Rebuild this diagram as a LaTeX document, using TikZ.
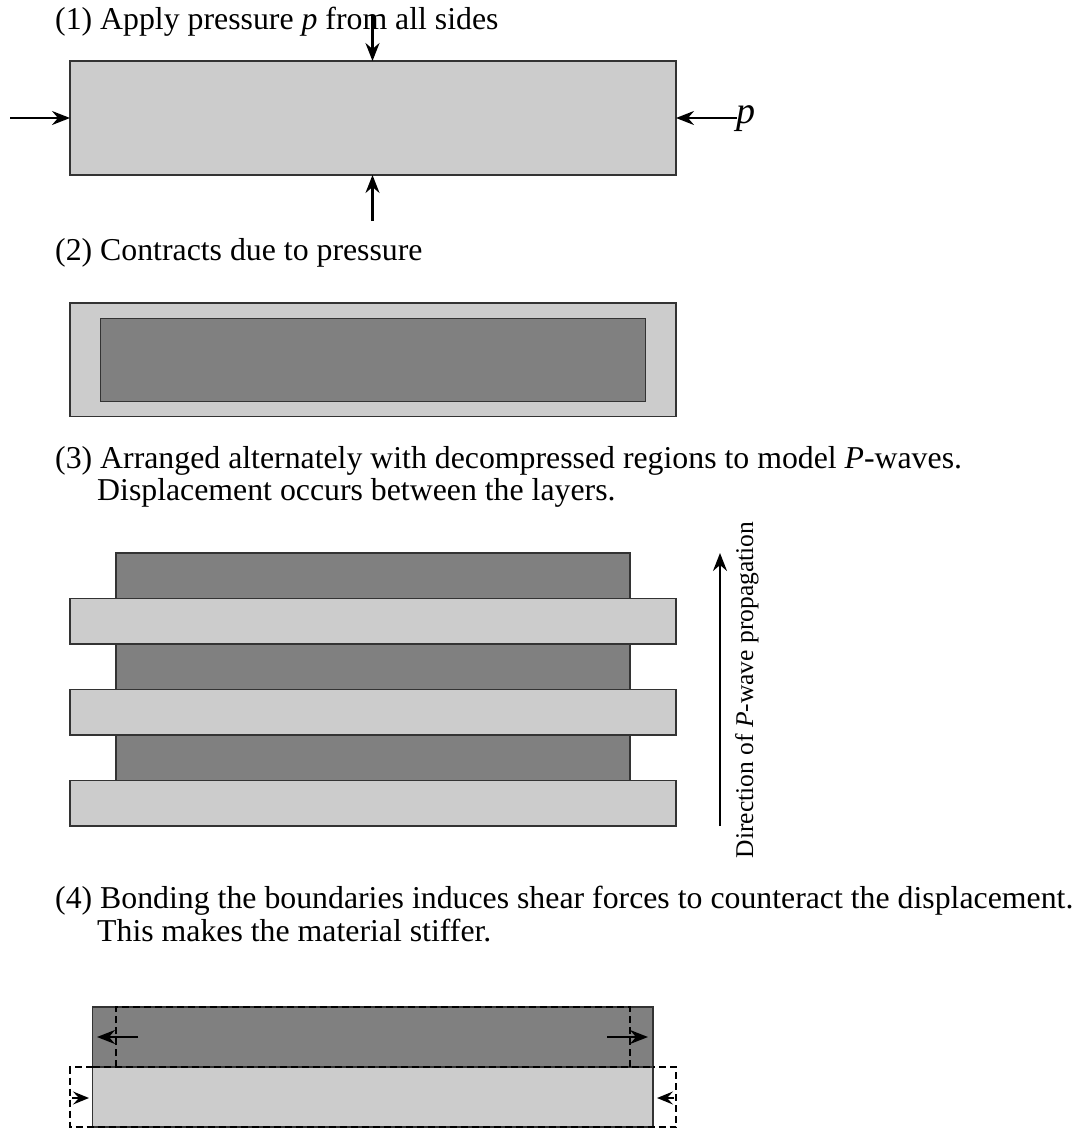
\documentclass[tikz,border=0pt]{standalone}
\usepackage{fontspec}
\setmainfont{Liberation Serif}
\usetikzlibrary{arrows.meta}
\begin{document}
\begin{tikzpicture}[x=1pt,y=-1pt,
  lightbox/.style={fill=black!20,draw=black!80,line width=1.4pt},
  darkbox/.style={fill=black!50,draw=black!80,line width=1.4pt},
  force/.style={line width=2.2pt,-{Stealth[length=18pt,width=14pt,inset=6pt]}},
  smallforce/.style={line width=2.2pt,-{Stealth[length=16pt,width=13pt,inset=6pt]}},
  dashbox/.style={line width=2pt,dash pattern=on 7pt off 4pt},
  lbl/.style={inner sep=0pt,anchor=base west,font=\fontsize{31.8}{36}\selectfont}]
\useasboundingbox (0,0) rectangle (1079,1128);
% ---------- (1)
\node[lbl] (t1) at (55,29) {(1) Apply pressure \textit{p} from all sides};
\draw[lightbox] (70,61) rectangle (676,175);
\coordinate (b1top) at (372.5,61);
\coordinate (b1bot) at (372.5,175);
\coordinate (b1left) at (70,118);
\coordinate (b1right) at (676,118);
\coordinate (a1top) at (372.5,15);
\coordinate (a1bot) at (372.5,221);
\coordinate (a1left) at (10,118);
\coordinate (a1right) at (737,118);
\draw[force] (a1top) -- (b1top);
\draw[force] (a1bot) -- (b1bot);
\draw[force] (a1left) -- (b1left);
\draw[force] (a1right) -- (b1right);
\node[inner sep=0pt,anchor=base west,font=\fontsize{38}{38}\selectfont\itshape] (plbl) at (736,123) {p};
% ---------- (2)
\node[lbl] (t2) at (55,260) {(2) Contracts due to pressure};
\draw[lightbox] (70,303) rectangle (676,416.5);
\draw[darkbox] (100.5,318.5) rectangle (645.5,401.5);
% ---------- (3)
\node[lbl] (t3a) at (55,468) {(3) Arranged alternately with decompressed regions to model \textit{P}-waves.};
\node[lbl] (t3b) at (97,500) {Displacement occurs between the layers.};
\draw[darkbox] (116,553) rectangle (630,780.5);
\draw[lightbox] (70,598.5) rectangle (676,644);
\draw[lightbox] (70,689.5) rectangle (676,735);
\draw[lightbox] (70,780.5) rectangle (676,826);
\coordinate (dirS) at (720,826);
\coordinate (dirE) at (720,553);
\draw[force] (dirS) -- (dirE);
\node[inner sep=0pt,rotate=90,font=\fontsize{25.5}{30}\selectfont,anchor=base] (dirlbl) at (753,690) {Direction of \textit{P}-wave propagation};
% ---------- (4)
\node[lbl] (t4a) at (55,908) {(4) Bonding the boundaries induces shear forces to counteract the displacement.};
\node[lbl] (t4b) at (97,941) {This makes the material stiffer.};
\draw[darkbox] (92.5,1007) rectangle (653,1067);
\draw[lightbox] (92.5,1067) rectangle (653,1127);
\draw[dashbox] (116,1067) -- (116,1007) -- (630,1007) -- (630,1067);
\draw[dashbox] (92.5,1067) -- (70,1067) -- (70,1127) -- (676,1127) -- (676,1067) -- (653,1067);
\draw[dashbox] (92.5,1067) -- (653,1067);
\coordinate (s1) at (138,1037);
\coordinate (e1) at (97,1037);
\coordinate (s2) at (607,1037);
\coordinate (e2) at (648,1037);
\draw[force] (s1) -- (e1);
\draw[force] (s2) -- (e2);
\coordinate (s3) at (72,1098);
\coordinate (e3) at (89,1098);
\coordinate (s4) at (674,1098);
\coordinate (e4) at (657,1098);
\draw[smallforce] (s3) -- (e3);
\draw[smallforce] (s4) -- (e4);
\end{tikzpicture}
\end{document}
